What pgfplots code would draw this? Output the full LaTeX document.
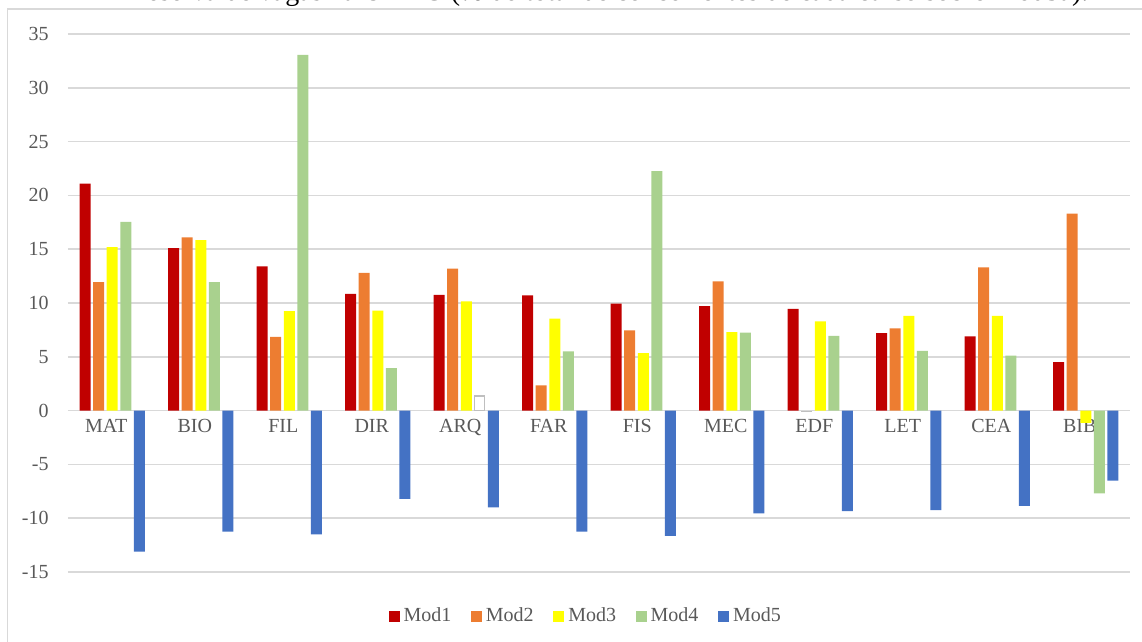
\documentclass[border=0pt]{standalone}
\usepackage{pgfplots}
\pgfplotsset{compat=1.18}
\usepackage{fontspec}
\setmainfont{Liberation Serif}
\definecolor{cMa}{HTML}{C00000}
\definecolor{cMb}{HTML}{ED7D31}
\definecolor{cMc}{HTML}{FFFF00}
\definecolor{cMd}{HTML}{A9D18E}
\definecolor{cMe}{HTML}{4472C4}
\definecolor{gridgray}{HTML}{D9D9D9}
\definecolor{textgray}{HTML}{595959}
\definecolor{edgegray}{HTML}{BFBFBF}
\begin{document}
\begin{tikzpicture}
\begin{scope}[x=0.5pt,y=-0.5pt]
\draw[color=gridgray, line width=0.6pt] (7.5,9) rectangle (1170,670);
\node[anchor=base, font=\fontsize{14}{16}\selectfont, inner sep=0pt] at (613,1) {reserva de vagas na UFMG (\% do total de concorrentes de cada curso sobre Mod5a).};
\end{scope}
\begin{axis}[
  at={(34pt,-17pt)}, anchor=north west,
  width=531pt, height=269pt, scale only axis,
  xmin=-0.5, xmax=11.5, ymin=-15, ymax=35,
  ytick={-15,-10,-5,0,5,10,15,20,25,30,35},
  yticklabels={-15,-10,-5,0,5,10,15,20,25,30,35},
  xtick={0,...,11},
  xticklabels={MAT,BIO,FIL,DIR,ARQ,FAR,FIS,MEC,EDF,LET,CEA,BIB},
  axis line style={draw=none},
  major tick length=0pt,
  ymajorgrids, grid style={gridgray, line width=0.75pt},
  tick label style={font=\fontsize{10}{12}\selectfont, text=textgray},
  yticklabel style={anchor=east, inner sep=0pt, xshift=-9.5pt},
  xticklabel style={anchor=north, inner sep=0pt, yshift=76.5pt, xshift=-3pt},
  ybar, bar width=5.5pt,
  legend columns=5,
  legend style={at={(0.4865,-0.0827)}, anchor=center, draw=none, fill=none,
    inner sep=0pt, font=\fontsize{10}{12}\selectfont, text=textgray,
    nodes={inner sep=0pt},
    /tikz/every odd column/.append style={column sep=2pt},
    /tikz/every even column/.append style={column sep=9.8pt}},
  legend image code/.code={\fill[#1, draw=none] (0pt,-2.75pt) rectangle (5.5pt,2.75pt);},
]
\addplot[fill=cMa, draw=none, bar shift=-13.6pt] coordinates {(0,21.1) (1,15.1) (2,13.4) (3,10.85) (4,10.75) (5,10.7) (6,9.95) (7,9.7) (8,9.45) (9,7.2) (10,6.9) (11,4.5)};
\addplot[fill=cMb, draw=none, bar shift=-6.8pt] coordinates {(0,11.95) (1,16.1) (2,6.85) (3,12.8) (4,13.2) (5,2.35) (6,7.45) (7,12.0) (9,7.65) (10,13.3) (11,18.3)};
\addplot[fill=cMc, draw=none, bar shift=0pt] coordinates {(0,15.2) (1,15.85) (2,9.25) (3,9.3) (4,10.15) (5,8.55) (6,5.35) (7,7.3) (8,8.3) (9,8.8) (10,8.8) (11,-1.15)};
\addplot[fill=cMd, draw=none, bar shift=6.8pt] coordinates {(0,17.55) (1,11.95) (2,33.05) (3,3.95) (5,5.5) (6,22.25) (7,7.25) (8,6.95) (9,5.55) (10,5.1) (11,-7.7)};
\addplot[fill=cMe, draw=none, bar shift=13.6pt] coordinates {(0,-13.1) (1,-11.25) (2,-11.5) (3,-8.2) (4,-9.0) (5,-11.25) (6,-11.65) (7,-9.55) (8,-9.35) (9,-9.25) (10,-8.85) (11,-6.5)};
\addplot[forget plot, fill=white, draw=edgegray, line width=0.6pt, bar shift=6.8pt, bar width=5pt] coordinates {(4,1.35)};
\addplot[forget plot, fill=edgegray, draw=none, bar shift=-6.8pt] coordinates {(8,-0.15)};
\legend{Mod1,Mod2,Mod3,Mod4,Mod5}
\end{axis}
\pgfresetboundingbox
\useasboundingbox (0,0) rectangle (571pt,-321pt);
\end{tikzpicture}
\end{document}
